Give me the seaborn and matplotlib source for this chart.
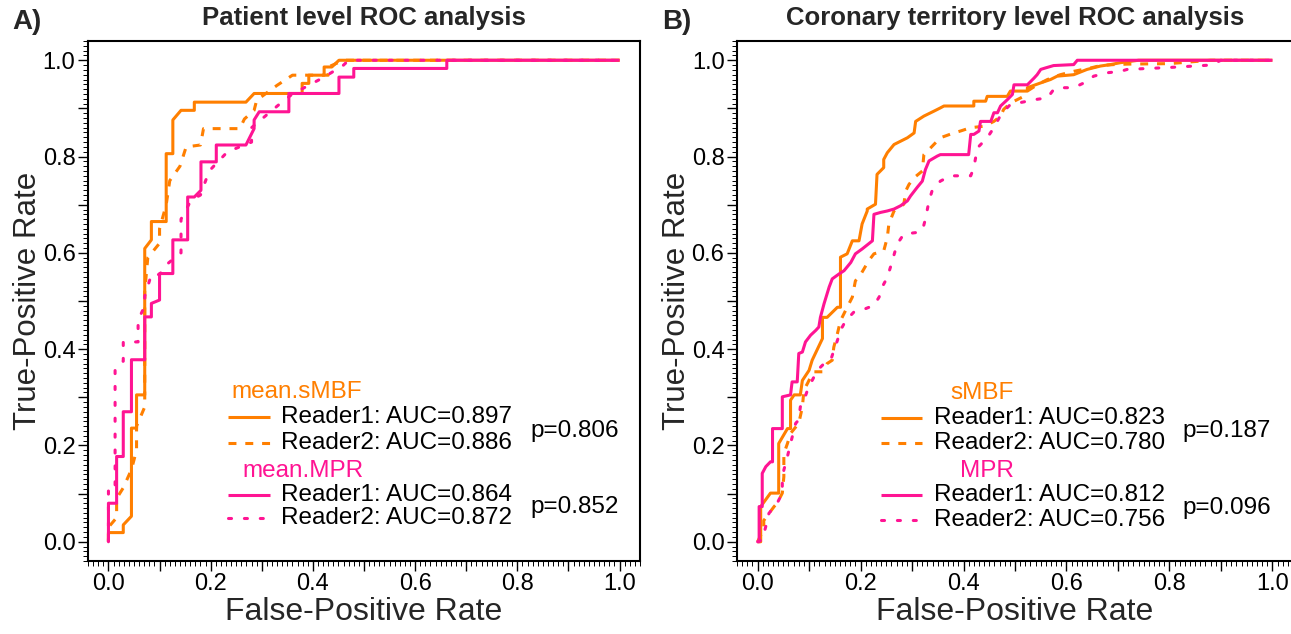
import matplotlib
matplotlib.use("Agg")
import matplotlib.pyplot as plt
from matplotlib.ticker import MultipleLocator, FuncFormatter
import pandas as pd
import seaborn as sns

sns.set_theme(style="white")
plt.rcParams["font.family"] = ["Liberation Sans", "DejaVu Sans"]

ORANGE = "#FF7F00"
PINK = "#FF1493"

# ---------------- Patient level ROC curves (vertices: FPR, TPR) ----------------
pat_smbf_r1_fpr = [0, 0, 0.029, 0.029, 0.045, 0.045, 0.055, 0.055, 0.071, 0.071,
                   0.084, 0.084, 0.113, 0.113, 0.126, 0.126, 0.142, 0.168, 0.168, 0.269,
                   0.285, 0.379, 0.379, 0.392, 0.392, 0.422, 0.422, 0.437, 0.451, 1.0]
pat_smbf_r1_tpr = [0, 0.019, 0.019, 0.035, 0.053, 0.236, 0.236, 0.305, 0.305, 0.609,
                   0.627, 0.665, 0.665, 0.806, 0.806, 0.876, 0.896, 0.896, 0.913, 0.913,
                   0.931, 0.931, 0.952, 0.952, 0.969, 0.969, 0.986, 0.986, 1.0, 1.0]

pat_smbf_r2_fpr = [0, 0, 0.016, 0.016, 0.029, 0.045, 0.055, 0.055, 0.071, 0.071,
                   0.077, 0.1, 0.1, 0.113, 0.12, 0.14, 0.152, 0.18, 0.186, 0.257,
                   0.266, 0.285, 0.29, 0.33, 0.36, 0.43, 0.43, 0.46, 1.0]
pat_smbf_r2_tpr = [0, 0.03, 0.05, 0.09, 0.112, 0.15, 0.19, 0.24, 0.28, 0.52,
                   0.59, 0.62, 0.65, 0.70, 0.75, 0.78, 0.82, 0.824, 0.858, 0.858,
                   0.878, 0.896, 0.917, 0.948, 0.969, 0.969, 0.986, 1.0, 1.0]

pat_mpr_r1_fpr = [0, 0, 0.016, 0.016, 0.029, 0.029, 0.045, 0.045, 0.071, 0.071,
                  0.084, 0.084, 0.1, 0.1, 0.126, 0.126, 0.155, 0.155, 0.168, 0.181,
                  0.181, 0.211, 0.211, 0.269, 0.285, 0.285, 0.295, 0.353, 0.353, 0.451,
                  0.451, 0.48, 0.48, 0.662, 0.662, 1.0]
pat_mpr_r1_tpr = [0, 0.08, 0.08, 0.177, 0.177, 0.27, 0.27, 0.378, 0.378, 0.467,
                  0.467, 0.495, 0.502, 0.557, 0.557, 0.627, 0.627, 0.716, 0.716, 0.73,
                  0.789, 0.789, 0.824, 0.824, 0.858, 0.876, 0.893, 0.893, 0.931, 0.931,
                  0.965, 0.965, 0.983, 0.983, 1.0, 1.0]

pat_mpr_r2_fpr = [0, 0, 0.013, 0.013, 0.029, 0.029, 0.058, 0.058, 0.071, 0.071,
                  0.084, 0.1, 0.113, 0.13, 0.142, 0.142, 0.162, 0.18, 0.197, 0.233,
                  0.28, 0.28, 0.3, 0.336, 0.36, 0.422, 0.46, 0.47, 1.0]
pat_mpr_r2_tpr = [0, 0.11, 0.11, 0.36, 0.375, 0.415, 0.415, 0.46, 0.49, 0.51,
                  0.555, 0.555, 0.575, 0.59, 0.6, 0.67, 0.71, 0.72, 0.77, 0.81,
                  0.83, 0.86, 0.878, 0.91, 0.93, 0.965, 0.99, 1.0, 1.0]

# ---------------- Coronary territory level ROC curves ----------------
ter_smbf_r1_fpr = [0, 0.006, 0.006, 0.025, 0.041, 0.041, 0.058, 0.064, 0.064, 0.071,
                   0.083, 0.087, 0.1, 0.106, 0.126, 0.126, 0.135, 0.155, 0.161, 0.161,
                   0.174, 0.184, 0.197, 0.203, 0.213, 0.213, 0.229, 0.232, 0.245, 0.245,
                   0.252, 0.265, 0.278, 0.291, 0.304, 0.307, 0.323, 0.342, 0.355, 0.362,
                   0.42, 0.42, 0.443, 0.446, 0.485, 0.491, 0.524, 0.524, 0.55, 0.569,
                   0.582, 0.614, 0.64, 0.666, 0.685, 0.705, 0.74, 1.0]
ter_smbf_r1_tpr = [0, 0, 0.073, 0.101, 0.101, 0.204, 0.235, 0.235, 0.294, 0.305,
                   0.305, 0.335, 0.356, 0.377, 0.422, 0.466, 0.466, 0.487, 0.487, 0.591,
                   0.598, 0.625, 0.625, 0.66, 0.687, 0.691, 0.701, 0.763, 0.777, 0.794,
                   0.808, 0.825, 0.832, 0.839, 0.849, 0.873, 0.884, 0.894, 0.901, 0.905,
                   0.905, 0.915, 0.915, 0.925, 0.925, 0.936, 0.936, 0.943, 0.953, 0.96,
                   0.967, 0.97, 0.981, 0.988, 0.991, 0.995, 1.0, 1.0]

ter_smbf_r2_fpr = [0, 0.012, 0.012, 0.032, 0.038, 0.048, 0.051, 0.051, 0.058, 0.064,
                   0.08, 0.087, 0.09, 0.097, 0.103, 0.109, 0.126, 0.135, 0.145, 0.148,
                   0.155, 0.161, 0.174, 0.184, 0.19, 0.197, 0.216, 0.226, 0.245, 0.252,
                   0.255, 0.265, 0.284, 0.288, 0.294, 0.304, 0.32, 0.323, 0.336, 0.355,
                   0.381, 0.394, 0.414, 0.44, 0.459, 0.472, 0.478, 0.491, 0.504, 0.517,
                   0.524, 0.543, 0.563, 0.588, 0.614, 0.647, 0.666, 0.692, 0.718, 0.8,
                   0.88, 1.0]
ter_smbf_r2_tpr = [0, 0.027, 0.044, 0.073, 0.08, 0.101, 0.135, 0.183, 0.204, 0.225,
                   0.246, 0.28, 0.315, 0.329, 0.342, 0.353, 0.353, 0.37, 0.377, 0.404,
                   0.432, 0.459, 0.487, 0.508, 0.542, 0.549, 0.584, 0.598, 0.604, 0.632,
                   0.66, 0.687, 0.701, 0.729, 0.742, 0.756, 0.77, 0.804, 0.818, 0.839,
                   0.849, 0.853, 0.86, 0.863, 0.873, 0.884, 0.898, 0.911, 0.918, 0.925,
                   0.936, 0.949, 0.96, 0.97, 0.977, 0.984, 0.989, 0.991, 0.992, 0.993,
                   1.0, 1.0]

ter_mpr_r1_fpr = [0, 0.003, 0.003, 0.009, 0.009, 0.016, 0.025, 0.029, 0.029, 0.048,
                  0.048, 0.064, 0.067, 0.077, 0.08, 0.087, 0.093, 0.103, 0.113, 0.119,
                  0.122, 0.129, 0.139, 0.145, 0.158, 0.168, 0.181, 0.19, 0.203, 0.223,
                  0.226, 0.239, 0.252, 0.265, 0.278, 0.291, 0.297, 0.31, 0.32, 0.326,
                  0.333, 0.349, 0.355, 0.41, 0.414, 0.42, 0.43, 0.433, 0.453, 0.459,
                  0.466, 0.472, 0.478, 0.485, 0.495, 0.498, 0.524, 0.537, 0.543, 0.55,
                  0.559, 0.575, 0.614, 0.621, 1.0]
ter_mpr_r1_tpr = [0, 0, 0.073, 0.073, 0.142, 0.156, 0.166, 0.166, 0.235, 0.235,
                  0.301, 0.305, 0.332, 0.332, 0.391, 0.394, 0.415, 0.429, 0.439, 0.446,
                  0.466, 0.494, 0.529, 0.546, 0.556, 0.563, 0.58, 0.598, 0.608, 0.625,
                  0.68, 0.684, 0.687, 0.691, 0.698, 0.708, 0.718, 0.736, 0.749, 0.773,
                  0.791, 0.801, 0.804, 0.804, 0.846, 0.846, 0.853, 0.873, 0.873, 0.891,
                  0.891, 0.905, 0.911, 0.918, 0.929, 0.949, 0.949, 0.963, 0.97, 0.981,
                  0.984, 0.989, 0.991, 1.0, 1.0]

ter_mpr_r2_fpr = [0, 0.009, 0.016, 0.022, 0.038, 0.048, 0.048, 0.051, 0.058, 0.064,
                  0.074, 0.08, 0.083, 0.09, 0.097, 0.106, 0.116, 0.132, 0.142, 0.148,
                  0.155, 0.161, 0.171, 0.187, 0.2, 0.226, 0.236, 0.242, 0.252, 0.258,
                  0.271, 0.284, 0.307, 0.32, 0.326, 0.333, 0.339, 0.355, 0.375, 0.414,
                  0.42, 0.427, 0.446, 0.459, 0.469, 0.478, 0.491, 0.524, 0.537, 0.563,
                  0.575, 0.588, 0.614, 0.634, 0.653, 0.679, 0.705, 0.718, 0.8, 0.88,
                  0.9, 1.0]
ter_mpr_r2_tpr = [0, 0.004, 0.032, 0.059, 0.08, 0.101, 0.121, 0.149, 0.177, 0.204,
                  0.246, 0.253, 0.28, 0.294, 0.315, 0.335, 0.356, 0.373, 0.377, 0.397,
                  0.418, 0.439, 0.459, 0.477, 0.48, 0.491, 0.508, 0.529, 0.549, 0.57,
                  0.618, 0.639, 0.642, 0.646, 0.67, 0.708, 0.729, 0.749, 0.76, 0.76,
                  0.777, 0.818, 0.839, 0.86, 0.88, 0.894, 0.908, 0.915, 0.918, 0.922,
                  0.939, 0.943, 0.943, 0.953, 0.967, 0.974, 0.977, 0.981, 0.985, 0.99,
                  1.0, 1.0]

# ---------------- Legend texts ----------------
pat_groups = ["mean.sMBF", "mean.MPR"]
ter_groups = ["sMBF", "MPR"]
pat_auc = ["0.897", "0.886", "0.864", "0.872"]
ter_auc = ["0.823", "0.780", "0.812", "0.756"]
pat_p = ["p=0.806", "p=0.852"]
ter_p = ["p=0.187", "p=0.096"]
readers = ["Reader1", "Reader2"]

W, H = 1291, 634
fig = plt.figure(figsize=(W / 100, H / 100), dpi=100)
fig.patch.set_facecolor("white")


def fx(px):
    return px / W


def fy(py):
    return 1 - py / H


ax_a = fig.add_axes([fx(88), fy(561), (640 - 88) / W, (561 - 41) / H])
ax_b = fig.add_axes([fx(737), fy(561), (1293 - 737) / W, (561 - 41) / H])

LW = 2.2
line_styles = {
    "r1_smbf": dict(color=ORANGE, linestyle="-", solid_capstyle="butt"),
    "r2_smbf": dict(color=ORANGE, linestyle=(0, (2.6, 2.9)), dash_capstyle="butt"),
    "r1_mpr": dict(color=PINK, linestyle="-", solid_capstyle="butt"),
    "r2_mpr": dict(color=PINK, linestyle=(0, (1.0, 4.2)), dash_capstyle="round"),
}


def frame(curves):
    parts = []
    for name, (f, t) in curves.items():
        parts.append(pd.DataFrame({"fpr": f, "tpr": t, "curve": name}))
    return pd.concat(parts, ignore_index=True)


pat_df = frame({
    "r1_smbf": (pat_smbf_r1_fpr, pat_smbf_r1_tpr),
    "r2_smbf": (pat_smbf_r2_fpr, pat_smbf_r2_tpr),
    "r1_mpr": (pat_mpr_r1_fpr, pat_mpr_r1_tpr),
    "r2_mpr": (pat_mpr_r2_fpr, pat_mpr_r2_tpr),
})
ter_df = frame({
    "r1_smbf": (ter_smbf_r1_fpr, ter_smbf_r1_tpr),
    "r2_smbf": (ter_smbf_r2_fpr, ter_smbf_r2_tpr),
    "r1_mpr": (ter_mpr_r1_fpr, ter_mpr_r1_tpr),
    "r2_mpr": (ter_mpr_r2_fpr, ter_mpr_r2_tpr),
})


def major_fmt(v, pos):
    k = int(round(v * 10))
    return f"{v:.1f}" if k % 2 == 0 else ""


def style_axes(ax):
    ax.set_xlim(-0.04, 1.04)
    ax.set_ylim(-0.04, 1.04)
    ax.set_facecolor("white")
    ax.grid(False)
    for s in ax.spines.values():
        s.set_color("black")
        s.set_linewidth(1.5)
        s.set_visible(True)
    for axis in (ax.xaxis, ax.yaxis):
        axis.set_major_locator(MultipleLocator(0.1))
        axis.set_minor_locator(MultipleLocator(0.01))
        axis.set_major_formatter(FuncFormatter(major_fmt))
    ax.tick_params(which="major", direction="out", length=7, width=1.0,
                   color="black", labelsize=17, labelcolor="black", pad=2,
                   bottom=True, left=True, top=False, right=False)
    ax.tick_params(which="minor", direction="out", length=3.5, width=0.7,
                   color="black", bottom=True, left=True, top=False, right=False)
    ax.set_xlabel("")
    ax.set_ylabel("")


def draw_curves(ax, df):
    for name in ["r1_smbf", "r2_smbf", "r1_mpr", "r2_mpr"]:
        sub = df[df["curve"] == name]
        sns.lineplot(data=sub, x="fpr", y="tpr", sort=False, estimator=None,
                     ax=ax, lw=LW, **line_styles[name])


def draw_legend(ax, groups, aucs, pvals, head_x, head_y, line_x0, line_x1,
                text_x, row_y, p_x, p_y):
    keys = [["r1_smbf", "r2_smbf"], ["r1_mpr", "r2_mpr"]]
    colors = [ORANGE, PINK]
    fs = 17.5
    for g in range(2):
        ax.text(head_x[g], head_y[g], groups[g], color=colors[g], fontsize=fs,
                ha="left", va="center", clip_on=False)
        for r in range(2):
            y = row_y[g][r]
            ax.plot([line_x0, line_x1], [y, y], lw=LW, clip_on=False,
                    **line_styles[keys[g][r]])
            ax.text(text_x, y, f"{readers[r]}: AUC={aucs[2 * g + r]}",
                    color="black", fontsize=fs, ha="left", va="center",
                    clip_on=False)
        ax.text(p_x, p_y[g], pvals[g], color="black", fontsize=fs,
                ha="left", va="center", clip_on=False)


draw_curves(ax_a, pat_df)
draw_curves(ax_b, ter_df)
style_axes(ax_a)
style_axes(ax_b)

draw_legend(ax_a, pat_groups, pat_auc, pat_p,
            head_x=[0.240, 0.263], head_y=[0.311, 0.147],
            line_x0=0.234, line_x1=0.316, text_x=0.337,
            row_y=[[0.259, 0.205], [0.097, 0.050]],
            p_x=0.825, p_y=[0.230, 0.073])
draw_legend(ax_b, ter_groups, ter_auc, ter_p,
            head_x=[0.375, 0.394], head_y=[0.308, 0.147],
            line_x0=0.239, line_x1=0.320, text_x=0.342,
            row_y=[[0.257, 0.205], [0.097, 0.046]],
            p_x=0.825, p_y=[0.230, 0.070])

# Titles, panel tags and axis labels
fig.text(fx(364), fy(18), "Patient level ROC analysis", fontsize=18.5,
         fontweight="bold", ha="center", va="center")
fig.text(fx(1015), fy(18), "Coronary territory level ROC analysis",
         fontsize=18.5, fontweight="bold", ha="center", va="center")
fig.text(fx(12), fy(22), "A)", fontsize=20, fontweight="bold",
         ha="left", va="center")
fig.text(fx(662), fy(22), "B)", fontsize=20, fontweight="bold",
         ha="left", va="center")
for cx in (364, 1015):
    fig.text(fx(cx), fy(612), "False-Positive Rate", fontsize=23,
             ha="center", va="center")
for cx in (28, 677):
    fig.text(fx(cx), fy(301), "True-Positive Rate", fontsize=22.5,
             ha="center", va="center", rotation=90)

fig.savefig("out.png", dpi=100, facecolor="white")
